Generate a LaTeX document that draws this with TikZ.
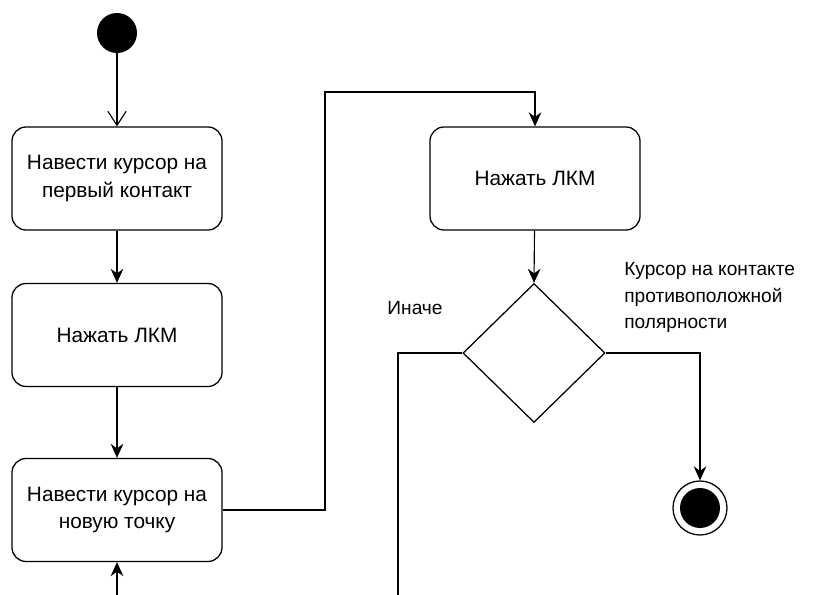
\documentclass[tikz,border=0pt]{standalone}
\usepackage{fontspec}
\setmainfont{Liberation Sans}
\usepackage{tikz}
\usetikzlibrary{positioning}
\usetikzlibrary{calc}
\usetikzlibrary{arrows.meta}
\usetikzlibrary{shapes.geometric}

\begin{document}
\begin{tikzpicture}
    [%%%%%%%%%%%%%%%%%%%%%%%%%%%%%%
        action/.style={rectangle,rounded corners=10pt,draw=black,line width=0.9pt,
            minimum width=5.25cm,minimum height=2.575cm,align=center,
            font=\fontsize{14.8}{19.5}\selectfont},
        decision/.style={diamond,draw=black,line width=0.9pt,inner sep=0pt,
            minimum width=3.55cm,minimum height=3.475cm},
        flow/.style={line width=0.8pt,-{Stealth[length=10pt,width=9pt]}},
        lbl/.style={align=left,font=\fontsize{13.6}{19}\selectfont}
    ]%%%%%%%%%%%%%%%%%%%%%%%%%%%%%%

\clip (0,0) rectangle (20.35,-14.875);

\node[circle,fill=black,minimum size=1cm,inner sep=0pt] (start) at (2.925,-0.825){};

\node[action] (hover1) at (2.925,-4.4625){Навести курсор на\\первый контакт};
\node[action] (press1) at (2.925,-8.375){Нажать ЛКМ};
\node[action] (hover2) at (2.925,-12.75){Навести курсор на\\новую точку};
\node[action] (press2) at (13.375,-4.4625){Нажать ЛКМ};
\node[decision] (check) at (13.35,-8.825){};

\node[circle,draw=black,line width=0.9pt,minimum size=1.35cm,inner sep=0pt] (finish) at (17.5,-12.7){};
\node[circle,fill=black,minimum size=1cm,inner sep=0pt] (finishdot) at (finish.center){};

\node[lbl] (elselbl) at (10.375,-7.7){Иначе};
\node[lbl,anchor=north west,inner sep=0pt] (oklbl) at (15.6,-6.55)
    {Курсор на контакте\\противоположной\\полярности};

\coordinate (loopa) at (9.95,-8.825);
\coordinate (loopb) at (9.95,-15.5);
\coordinate (loopc) at (2.925,-15.5);

% connectors
\draw[line width=0.8pt,-{Straight Barb[length=10pt,width=13pt]}] (start) -- (hover1);
\draw[flow] (hover1) -- (press1);
\draw[flow] (press1) -- (hover2);
\draw[flow] (hover2.east) -- (8.125,-12.75) |- (13.375,-2.3) -- (press2.north);
\draw[flow] (press2) -- (check.north);
\draw[flow] (check.east) -| (finish.north);
\draw[flow] (check.west) -- (loopa) -- (loopb) -- (loopc) -- (hover2.south);

\end{tikzpicture}
\end{document}
